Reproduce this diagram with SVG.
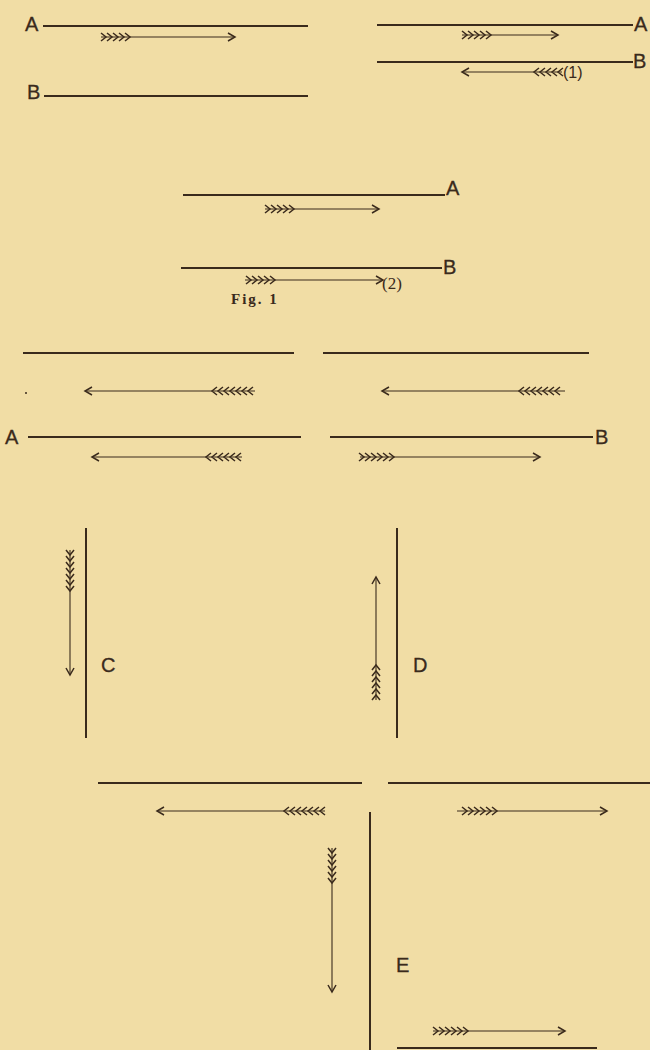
<svg xmlns="http://www.w3.org/2000/svg" xmlns:xlink="http://www.w3.org/1999/xlink" width="650" height="1050" viewBox="0 0 650 1050">
<style>
.ln{stroke:#3a2a1c;stroke-width:2;fill:none}
.ar{stroke:#3a2a1c;stroke-width:1.1;fill:none}
.fl{stroke:#3a2a1c;stroke-width:1.5;fill:none}
.lb{font-family:"Liberation Sans",Arial,sans-serif;font-size:20px;fill:#3a2a1c;stroke:#3a2a1c;stroke-width:0.3}
.nm{font-family:"Liberation Sans",Arial,sans-serif;font-size:16px;fill:#3a2a1c}
.sr{font-family:"Liberation Serif","Times New Roman",serif;fill:#3a2a1c}
</style>
<defs>
<path id="f5" class="fl" d="M-5,-4L0,0L-5,4M-11,-4L-6,0L-11,4M-17,-4L-12,0L-17,4M-23,-4L-18,0L-23,4M-29,-4L-24,0L-29,4"/>
<path id="f6" class="fl" d="M-5,-4L0,0L-5,4M-11,-4L-6,0L-11,4M-17,-4L-12,0L-17,4M-23,-4L-18,0L-23,4M-29,-4L-24,0L-29,4M-35,-4L-30,0L-35,4"/>
<path id="f7" class="fl" d="M-5,-4L0,0L-5,4M-11,-4L-6,0L-11,4M-17,-4L-12,0L-17,4M-23,-4L-18,0L-23,4M-29,-4L-24,0L-29,4M-35,-4L-30,0L-35,4M-41,-4L-36,0L-41,4"/>
<path id="hd" class="fl" d="M-7,-4L0,0L-7,4"/>
</defs>
<rect width="650" height="1050" fill="#F1DDA5"/>

<g id="fig1-left">
<text class="lb" x="25" y="31">A</text>
<line class="ln" x1="43" y1="26" x2="308" y2="26"/>
<text class="lb" x="27" y="99">B</text>
<line class="ln" x1="44" y1="96" x2="308" y2="96"/>
</g>
<g id="fig1-right">
<line class="ln" x1="377" y1="25" x2="633" y2="25"/>
<text class="lb" x="634" y="31">A</text>
<line class="ln" x1="377" y1="62" x2="633" y2="62"/>
<text class="lb" x="633" y="68">B</text>
<text class="nm" x="563" y="78">(1)</text>
</g>
<g id="fig1-bottom">
<line class="ln" x1="183" y1="195" x2="445" y2="195"/>
<text class="lb" x="446" y="195">A</text>
<line class="ln" x1="181" y1="268" x2="442" y2="268"/>
<text class="lb" x="443" y="274">B</text>
<text class="sr" x="382" y="289" font-size="17">(2)</text>
<text class="sr" x="231" y="304" font-size="15" font-weight="bold" letter-spacing="2">Fig. 1</text>
</g>
<g id="fig2-left">
<line class="ln" x1="23" y1="353" x2="294" y2="353"/>
<text class="lb" x="5" y="444">A</text>
<line class="ln" x1="28" y1="437" x2="301" y2="437"/>
<circle cx="26" cy="393" r="1" fill="#3a2a1c"/>
</g>
<g id="fig2-right">
<line class="ln" x1="323" y1="353" x2="589" y2="353"/>
<line class="ln" x1="330" y1="437" x2="593" y2="437"/>
<text class="lb" x="595" y="444">B</text>
</g>
<g id="C">
<line class="ln" x1="86" y1="528" x2="86" y2="738"/>
<text class="lb" x="101" y="672">C</text>
</g>
<g id="D">
<line class="ln" x1="397" y1="528" x2="397" y2="738"/>
<text class="lb" x="413" y="672">D</text>
</g>
<g id="fig3">
<line class="ln" x1="98" y1="783" x2="362" y2="783"/>
<line class="ln" x1="388" y1="783" x2="650" y2="783"/>
</g>
<g id="E">
<line class="ln" x1="370" y1="812" x2="370" y2="1050"/>
<text class="lb" x="396" y="972">E</text>
<line class="ln" x1="397" y1="1048" x2="597" y2="1048"/>
</g>

<g id="connectors">
<line class="ar" x1="101" y1="37" x2="235" y2="37"/>
<use href="#f5" transform="translate(130,37)"/>
<use href="#hd" transform="translate(235,37)"/>
<line class="ar" x1="462" y1="35" x2="558" y2="35"/>
<use href="#f5" transform="translate(491,35)"/>
<use href="#hd" transform="translate(558,35)"/>
<line class="ar" x1="462" y1="72" x2="562" y2="72"/>
<use href="#f5" transform="translate(534,72) rotate(180)"/>
<use href="#hd" transform="translate(462,72) rotate(180)"/>
<line class="ar" x1="265" y1="209" x2="379" y2="209"/>
<use href="#f5" transform="translate(294,209)"/>
<use href="#hd" transform="translate(379,209)"/>
<line class="ar" x1="245" y1="280" x2="383" y2="280"/>
<use href="#f5" transform="translate(275,280)"/>
<use href="#hd" transform="translate(383,280)"/>
<line class="ar" x1="85" y1="391" x2="255" y2="391"/>
<use href="#f7" transform="translate(212,391) rotate(180)"/>
<use href="#hd" transform="translate(85,391) rotate(180)"/>
<line class="ar" x1="382" y1="391" x2="565" y2="391"/>
<use href="#f7" transform="translate(519,391) rotate(180)"/>
<use href="#hd" transform="translate(382,391) rotate(180)"/>
<line class="ar" x1="92" y1="457" x2="242" y2="457"/>
<use href="#f6" transform="translate(206,457) rotate(180)"/>
<use href="#hd" transform="translate(92,457) rotate(180)"/>
<line class="ar" x1="360" y1="457" x2="540" y2="457"/>
<use href="#f6" transform="translate(394,457)"/>
<use href="#hd" transform="translate(540,457)"/>
<line class="ar" x1="70" y1="550" x2="70" y2="675"/>
<use href="#f7" transform="translate(70,591) rotate(90)"/>
<use href="#hd" transform="translate(70,675) rotate(90)"/>
<line class="ar" x1="376" y1="577" x2="376" y2="700"/>
<use href="#f6" transform="translate(376,665) rotate(-90)"/>
<use href="#hd" transform="translate(376,577) rotate(-90)"/>
<line class="ar" x1="157" y1="811" x2="325" y2="811"/>
<use href="#f7" transform="translate(284,811) rotate(180)"/>
<use href="#hd" transform="translate(157,811) rotate(180)"/>
<line class="ar" x1="457" y1="811" x2="607" y2="811"/>
<use href="#f6" transform="translate(497,811)"/>
<use href="#hd" transform="translate(607,811)"/>
<line class="ar" x1="332" y1="848" x2="332" y2="992"/>
<use href="#f6" transform="translate(332,883) rotate(90)"/>
<use href="#hd" transform="translate(332,992) rotate(90)"/>
<line class="ar" x1="433" y1="1031" x2="565" y2="1031"/>
<use href="#f6" transform="translate(468,1031)"/>
<use href="#hd" transform="translate(565,1031)"/>
</g>
</svg>
